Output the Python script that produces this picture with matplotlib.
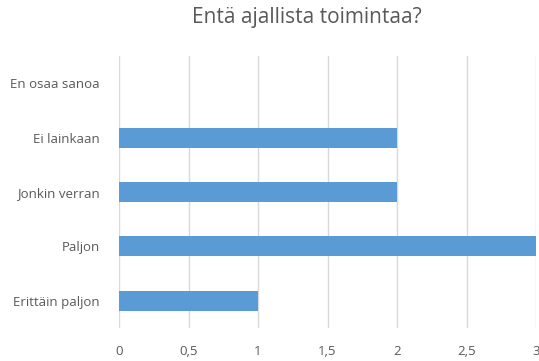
import matplotlib.pyplot as plt
from matplotlib.ticker import FuncFormatter

categories = ['Erittäin paljon', 'Paljon', 'Jonkin verran', 'Ei lainkaan', 'En osaa sanoa']
values = [1, 3, 2, 2, 0]
xticks = [0, 0.5, 1, 1.5, 2, 2.5, 3]
title = 'Entä ajallista toimintaa?'

plt.rcParams['font.family'] = ['Open Sans', 'DejaVu Sans']

fig = plt.figure(figsize=(5.39, 3.61), dpi=100)
ax = fig.add_axes([119 / 539, 1 - 328 / 361, 417 / 539, 272 / 361])

ax.barh(range(len(categories)), values, height=0.37, color='#5B9BD5', zorder=3)

ax.set_xlim(0, 3)
ax.set_ylim(-0.5, len(categories) - 0.5)
ax.set_xticks(xticks)
ax.xaxis.set_major_formatter(FuncFormatter(lambda v, p: ('%g' % v).replace('.', ',')))
ax.set_yticks(range(len(categories)))
ax.set_yticklabels(categories)

ax.grid(axis='x', color='#d9d9d9', lw=1, zorder=0)
for s in ax.spines.values():
    s.set_visible(False)
ax.tick_params(axis='both', length=0, colors='#595959', labelsize=9.5)
ax.tick_params(axis='x', pad=12)
ax.tick_params(axis='y', pad=14)

fig.text(307 / 539, 1 - 18 / 361, title, ha='center', va='center',
         fontsize=15, color='#595959')

fig.savefig('out.png', dpi=100)
